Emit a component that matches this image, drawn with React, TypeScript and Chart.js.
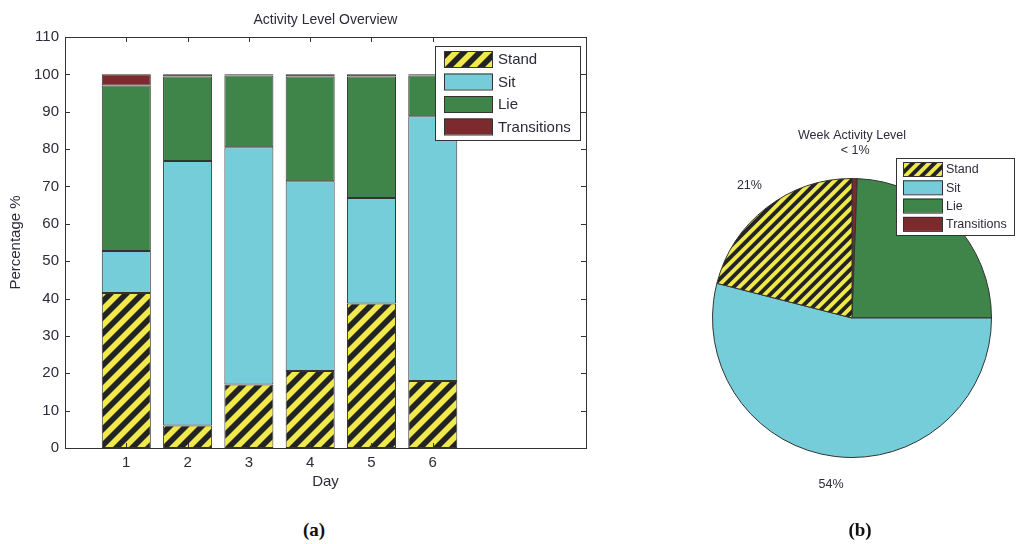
import React, { useEffect, useRef } from 'react';
import Chart from 'chart.js/auto';

// Activity share per day, percent (bottom to top of each stack)
const days = [1, 2, 3, 4, 5, 6];
const activities = ['Stand', 'Sit', 'Lie', 'Transitions'];
const stand = [41.5, 6.0, 17.0, 20.6, 38.7, 17.9];
const sit = [11.2, 70.8, 63.5, 50.8, 28.2, 70.9];
const lie = [44.3, 22.6, 19.2, 28.0, 32.5, 10.9];
const transitions = [3.0, 0.6, 0.3, 0.6, 0.6, 0.3];

// Whole week share, same order as activities
const weekShare = [21.0, 54.0, 24.4, 0.6];

const YELLOW = '#efe94c';
const BLACK = '#232323';
const CYAN = '#75cdd9';
const GREEN = '#3f8549';
const DARKRED = '#7d2a2e';
const EDGE = '#333333';
const TEXT = '#2b2b3b';
const FONT = '"Liberation Sans", Arial, sans-serif';

// yellow/black diagonal stripes, like the MATLAB hatch fill
function makeHatch(period: number): CanvasPattern | string {
  const c = document.createElement('canvas');
  c.width = period;
  c.height = period;
  const g = c.getContext('2d');
  if (!g) return YELLOW;
  g.fillStyle = YELLOW;
  g.fillRect(0, 0, period, period);
  g.strokeStyle = BLACK;
  g.lineWidth = period / (2 * Math.SQRT2);
  g.beginPath();
  for (const k of [-period, 0, period, 2 * period]) {
    const c0 = k + period / 4;
    g.moveTo(c0 - 2 * period, 2 * period);
    g.lineTo(c0 + 2 * period, -2 * period);
  }
  g.stroke();
  return g.createPattern(c, 'repeat') || YELLOW;
}

interface LegendBox {
  x: number;
  y: number;
  w: number;
  h: number;
  swX: number;
  swW: number;
  swH: number;
  firstY: number;
  step: number;
  textX: number;
  font: string;
}

function drawLegend(ctx: CanvasRenderingContext2D, b: LegendBox, fills: (CanvasPattern | string)[]) {
  ctx.save();
  ctx.fillStyle = '#ffffff';
  ctx.fillRect(b.x, b.y, b.w, b.h);
  ctx.strokeStyle = EDGE;
  ctx.lineWidth = 1;
  ctx.strokeRect(b.x + 0.5, b.y + 0.5, b.w, b.h);
  ctx.font = b.font;
  ctx.textBaseline = 'middle';
  ctx.textAlign = 'left';
  activities.forEach((name, i) => {
    const cy = b.firstY + i * b.step;
    ctx.fillStyle = fills[i];
    ctx.fillRect(b.swX, cy - b.swH / 2, b.swW, b.swH);
    ctx.strokeStyle = EDGE;
    ctx.strokeRect(b.swX + 0.5, cy - b.swH / 2 + 0.5, b.swW, b.swH);
    ctx.fillStyle = TEXT;
    ctx.fillText(name, b.textX, cy + 1);
  });
  ctx.restore();
}

function BarChart() {
  const canvasRef = useRef<HTMLCanvasElement | null>(null);

  useEffect(() => {
    if (!canvasRef.current) return;
    const hatch = makeHatch(16);
    const fills = [hatch, CYAN, GREEN, DARKRED];
    const series = [stand, sit, lie, transitions];

    const framePlugin = {
      id: 'frame',
      afterDraw(chart: any) {
        const { ctx, chartArea: a, scales } = chart;
        ctx.save();
        ctx.strokeStyle = EDGE;
        ctx.lineWidth = 1;
        ctx.strokeRect(Math.round(a.left) + 0.5, Math.round(a.top) + 0.5, Math.round(a.right - a.left), Math.round(a.bottom - a.top));
        // inward tick marks on all four sides
        ctx.beginPath();
        scales.y.ticks.forEach((t: any) => {
          const py = Math.round(scales.y.getPixelForValue(t.value)) + 0.5;
          ctx.moveTo(a.left, py);
          ctx.lineTo(a.left + 5, py);
          ctx.moveTo(a.right, py);
          ctx.lineTo(a.right - 5, py);
        });
        scales.x.ticks.forEach((t: any) => {
          const px = Math.round(scales.x.getPixelForValue(t.value)) + 0.5;
          ctx.moveTo(px, a.bottom);
          ctx.lineTo(px, a.bottom - 5);
          ctx.moveTo(px, a.top);
          ctx.lineTo(px, a.top + 5);
        });
        ctx.stroke();

        ctx.fillStyle = TEXT;
        ctx.font = `14px ${FONT}`;
        ctx.textAlign = 'center';
        ctx.textBaseline = 'middle';
        ctx.fillText('Activity Level Overview', (a.left + a.right) / 2, 20);
        ctx.restore();

        drawLegend(ctx, {
          x: 435, y: 46, w: 145, h: 94,
          swX: 444, swW: 48, swH: 16,
          firstY: 59, step: 22.5, textX: 498,
          font: `15px ${FONT}`,
        }, fills);
      },
    };

    const chart = new Chart(canvasRef.current, {
      type: 'bar',
      data: {
        datasets: activities.map((name, i) => ({
          label: name,
          data: days.map((d, j) => ({ x: d, y: series[i][j] })),
          backgroundColor: fills[i] as any,
          borderColor: EDGE,
          borderWidth: 1,
          borderSkipped: false,
          barPercentage: 1,
          categoryPercentage: 0.8,
          stack: 'day',
        })),
      },
      options: {
        animation: false,
        responsive: false,
        layout: { padding: { left: 0, top: 37, right: 14, bottom: 0 } },
        plugins: { legend: { display: false }, tooltip: { enabled: false }, title: { display: false } },
        scales: {
          x: {
            type: 'linear',
            min: 0,
            max: 8.5,
            offset: false,
            afterBuildTicks: (s: any) => {
              s.ticks = days.map((v) => ({ value: v }));
            },
            afterFit: (s: any) => {
              s.height = 52;
            },
            grid: { display: false, drawTicks: false, tickLength: 0, offset: false },
            border: { display: false },
            ticks: { color: TEXT, font: { family: FONT, size: 15 }, padding: 6, maxRotation: 0 },
            title: { display: true, text: 'Day', color: TEXT, font: { family: FONT, size: 15 }, padding: { top: 0, bottom: 9 } },
          },
          y: {
            min: 0,
            max: 110,
            stacked: true,
            afterFit: (s: any) => {
              s.width = 65;
            },
            grid: { display: false, drawTicks: false, tickLength: 0 },
            border: { display: false },
            ticks: { stepSize: 10, color: TEXT, font: { family: FONT, size: 15 }, padding: 6 },
            title: { display: true, text: 'Percentage %', color: TEXT, font: { family: FONT, size: 15 }, padding: { top: 7, bottom: 0 } },
          },
        },
      },
      plugins: [framePlugin],
    });

    return () => chart.destroy();
  }, []);

  return <canvas ref={canvasRef} width={600} height={500} style={{ position: 'absolute', left: 0, top: 0 }} />;
}

function PieChart() {
  const canvasRef = useRef<HTMLCanvasElement | null>(null);

  useEffect(() => {
    if (!canvasRef.current) return;
    const hatch = makeHatch(11);
    const fills = [hatch, CYAN, GREEN, DARKRED];
    // MATLAB runs the slices counter-clockwise, Chart.js clockwise: feed them reversed
    const order = [3, 2, 1, 0];

    const labelPlugin = {
      id: 'pieText',
      afterDraw(chart: any) {
        const { ctx } = chart;
        const meta = chart.getDatasetMeta(0);
        ctx.save();
        ctx.fillStyle = TEXT;
        ctx.font = `12.5px ${FONT}`;
        ctx.textAlign = 'center';
        ctx.textBaseline = 'middle';
        ctx.fillText('Week Activity Level', 252, 136);
        meta.data.forEach((arc: any, i: number) => {
          const v = weekShare[order[i]];
          const mid = (arc.startAngle + arc.endAngle) / 2;
          const r = arc.outerRadius * 1.2;
          const text = v < 1 ? '< 1%' : `${Math.round(v)}%`;
          ctx.fillText(text, arc.x + Math.cos(mid) * r, arc.y + Math.sin(mid) * r);
        });
        ctx.restore();

        drawLegend(ctx, {
          x: 296, y: 158, w: 118, h: 77,
          swX: 303, swW: 39, swH: 14,
          firstY: 169, step: 18.3, textX: 346,
          font: `12.5px ${FONT}`,
        }, fills);
      },
    };

    const chart = new Chart(canvasRef.current, {
      type: 'pie',
      data: {
        labels: order.map((i) => activities[i]),
        datasets: [
          {
            data: order.map((i) => weekShare[i]),
            backgroundColor: order.map((i) => fills[i]) as any,
            borderColor: EDGE,
            borderWidth: 1,
          },
        ],
      },
      options: {
        animation: false,
        responsive: false,
        layout: { padding: { left: 112, right: 32, top: 178, bottom: 86 } },
        plugins: { legend: { display: false }, tooltip: { enabled: false }, title: { display: false } },
      },
      plugins: [labelPlugin],
    });

    return () => chart.destroy();
  }, []);

  return <canvas ref={canvasRef} width={424} height={544} style={{ position: 'absolute', left: 600, top: 0 }} />;
}

const captionStyle: React.CSSProperties = {
  position: 'absolute',
  top: 519,
  width: 60,
  textAlign: 'center',
  font: 'bold 19px "Liberation Serif", "Times New Roman", serif',
  color: '#111',
};

export default function App() {
  return (
    <div style={{ position: 'fixed', left: 0, top: 0, width: 1024, height: 544, background: '#fff', overflow: 'hidden' }}>
      <BarChart />
      <PieChart />
      <div style={{ ...captionStyle, left: 284 }}>(a)</div>
      <div style={{ ...captionStyle, left: 830 }}>(b)</div>
    </div>
  );
}
